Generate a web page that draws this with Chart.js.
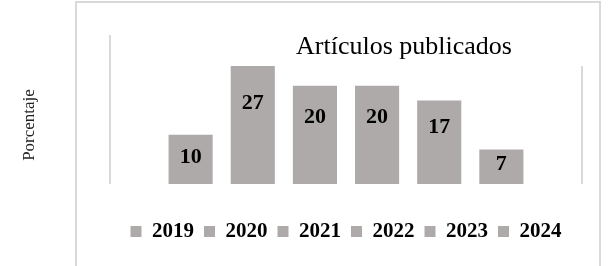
<!DOCTYPE html>
<html>
<head>
<meta charset="utf-8">
<script src="https://cdn.jsdelivr.net/npm/chart.js@4"></script>
<style>
  body { margin: 0; background: #fff; }
  #wrap { position: relative; width: 616px; height: 266px; overflow: hidden; }
  #frame {
    position: absolute; left: 75px; top: 1px; width: 526px; height: 280px;
    box-sizing: border-box; border: 2px solid #d9d9d9;
  }
  #chart { position: absolute; left: 0; top: 0; }
</style>
</head>
<body>
<div id="wrap">
  <div id="frame"></div>
  <canvas id="chart" width="616" height="266"></canvas>
</div>
<script>
"use strict";

const categories = [""];
const years = ["2019", "2020", "2021", "2022", "2023", "2024"];
const articles = [10, 27, 20, 20, 17, 7];
const chartTitle = "Artículos publicados";
const axisTitle = "Porcentaje";

const serif = "'Times New Roman', 'Liberation Serif', serif";
const barColor = "#aeaaaa";
const lineColor = "#d9d9d9";

// title sits off-centre over the plot, like the original
const titlePlugin = {
  id: "overlayTitle",
  afterDraw(chart) {
    const { ctx, chartArea } = chart;
    ctx.save();
    ctx.font = "26px " + serif;
    ctx.fillStyle = "#000";
    ctx.textAlign = "center";
    ctx.textBaseline = "alphabetic";
    ctx.fillText(chartTitle, (chartArea.left + chartArea.right) / 2 + 58, chartArea.top - 12);
    ctx.restore();
  },
};

// the two light vertical lines at each side of the plot
const sideLines = {
  id: "sideLines",
  beforeDatasetsDraw(chart) {
    const { ctx, chartArea } = chart;
    ctx.save();
    ctx.strokeStyle = lineColor;
    ctx.lineWidth = 2;
    ctx.beginPath();
    ctx.moveTo(chartArea.left, chartArea.top - 31);
    ctx.lineTo(chartArea.left, chartArea.bottom);
    ctx.moveTo(chartArea.right, chartArea.top);
    ctx.lineTo(chartArea.right, chartArea.bottom);
    ctx.stroke();
    ctx.restore();
  },
};

const valueLabels = {
  id: "valueLabels",
  afterDatasetsDraw(chart) {
    const { ctx, chartArea } = chart;
    ctx.save();
    ctx.font = "bold 22px " + serif;
    ctx.fillStyle = "#000";
    ctx.textAlign = "center";
    ctx.textBaseline = "middle";
    chart.data.datasets.forEach((ds, i) => {
      const bar = chart.getDatasetMeta(i).data[0];
      const top = Math.max(bar.y, chartArea.top);
      const h = bar.base - top;
      const y = top + Math.min(h / 2 - 2, Math.max(26, h * 0.32));
      ctx.fillText(String(ds.data[0]), bar.x, y);
    });
    ctx.restore();
  },
};

new Chart(document.getElementById("chart"), {
  type: "bar",
  data: {
    labels: categories,
    datasets: years.map((year, i) => ({
      label: year,
      data: [articles[i]],
      backgroundColor: barColor,
      clip: 0,
    })),
  },
  options: {
    responsive: false,
    animation: false,
    devicePixelRatio: 1,
    categoryPercentage: 0.79,
    barPercentage: 0.71,
    layout: { padding: { left: 10, top: 66, right: 34, bottom: 14 } },
    plugins: {
      title: { display: false },
      tooltip: { enabled: false },
      legend: {
        position: "bottom",
        fullSize: false,
        labels: {
          boxWidth: 11,
          boxHeight: 11,
          padding: 10,
          color: "#000",
          font: { family: serif, size: 21, weight: "bold" },
        },
      },
    },
    scales: {
      x: {
        ticks: { display: false },
        grid: { color: "rgba(0,0,0,0)", tickLength: 27 },
        border: { display: false },
      },
      y: {
        min: 0,
        max: 24,
        ticks: { display: false },
        grid: { display: false },
        border: { display: false },
        title: {
          display: true,
          text: axisTitle,
          color: "#222",
          font: { family: serif, size: 17 },
          padding: { top: 9.3, bottom: 62.3 },
        },
      },
    },
  },
  plugins: [titlePlugin, sideLines, valueLabels],
});
</script>
</body>
</html>
